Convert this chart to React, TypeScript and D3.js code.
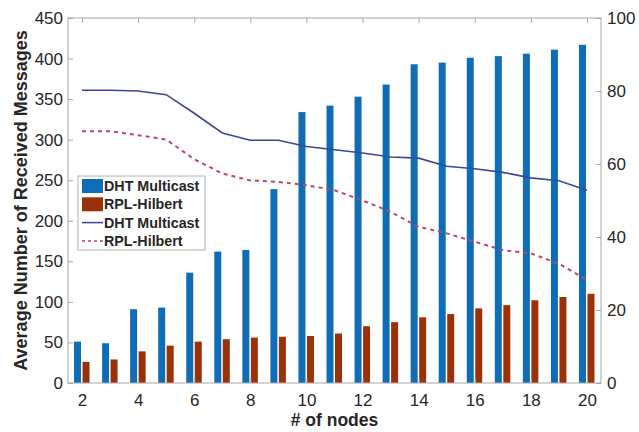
import React, { useRef, useEffect } from 'react';
import * as d3 from 'd3';

const nodes = [2, 3, 4, 5, 6, 7, 8, 9, 10, 11, 12, 13, 14, 15, 16, 17, 18, 19, 20];
const dhtMessages = [51, 49, 91, 93, 136, 162, 164, 239, 334, 342, 353, 368, 393, 395, 401, 403, 406, 411, 417];
const rplMessages = [26, 29, 39, 46, 51, 54, 56, 57, 58, 61, 70, 75, 81, 85, 92, 96, 102, 106, 110];
const dhtLine = [80.2, 80.2, 80, 79, 73.9, 68.5, 66.5, 66.5, 64.8, 63.9, 63, 61.9, 61.6, 59.4, 58.7, 57.7, 56.2, 55.4, 52.8];
const rplLine = [69, 69, 67.9, 66.7, 61.3, 57.4, 55.5, 55.1, 54.2, 52.8, 50, 46.9, 42.8, 41, 38.7, 36.4, 35.5, 32.7, 28.2];
const xTicks = [2, 4, 6, 8, 10, 12, 14, 16, 18, 20];
const leftTicks = [0, 50, 100, 150, 200, 250, 300, 350, 400, 450];
const rightTicks = [0, 20, 40, 60, 80, 100];
const legendItems = [
  { label: 'DHT Multicast', kind: 'bar', color: '#0f6db7' },
  { label: 'RPL-Hilbert', kind: 'bar', color: '#9a3209' },
  { label: 'DHT Multicast', kind: 'line', color: '#3b4796' },
  { label: 'RPL-Hilbert', kind: 'dash', color: '#bd4766' },
];

const W = 639;
const H = 432;

const App = () => {
  const ref = useRef(null);

  useEffect(() => {
    const svg = d3.select(ref.current);
    svg.selectAll('*').remove();
    const font = 'Liberation Sans, Arial, sans-serif';
    const margin = { top: 18, right: 38, bottom: 49, left: 68 };
    const width = W - margin.left - margin.right;
    const height = H - margin.top - margin.bottom;

    const x = d3.scaleLinear().domain([1.5, 20.5]).range([0, width]);
    const yL = d3.scaleLinear().domain([0, 450]).range([height, 0]);
    const yR = d3.scaleLinear().domain([0, 100]).range([height, 0]);

    const g = svg.append('g').attr('transform', `translate(${margin.left},${margin.top})`);
    const axisColor = '#a6a6a6';
    const textColor = '#262626';
    const barW = 7;

    g.selectAll('.bar-dht')
      .data(nodes)
      .enter()
      .append('rect')
      .attr('x', (d) => x(d) - 4.5 - barW / 2)
      .attr('y', (d, i) => yL(dhtMessages[i]))
      .attr('width', barW)
      .attr('height', (d, i) => height - yL(dhtMessages[i]))
      .attr('fill', legendItems[0].color);

    g.selectAll('.bar-rpl')
      .data(nodes)
      .enter()
      .append('rect')
      .attr('x', (d) => x(d) + 4 - barW / 2)
      .attr('y', (d, i) => yL(rplMessages[i]))
      .attr('width', barW)
      .attr('height', (d, i) => height - yL(rplMessages[i]))
      .attr('fill', legendItems[1].color);

    const line = d3.line().x((d, i) => x(nodes[i])).y((d) => yR(d));

    g.append('path')
      .datum(dhtLine)
      .attr('fill', 'none')
      .attr('stroke', legendItems[2].color)
      .attr('stroke-width', 1.6)
      .attr('d', line);

    g.append('path')
      .datum(rplLine)
      .attr('fill', 'none')
      .attr('stroke', legendItems[3].color)
      .attr('stroke-width', 2)
      .attr('stroke-dasharray', '4,4')
      .attr('d', line);

    // axes box
    g.append('rect')
      .attr('x', 0)
      .attr('y', 0)
      .attr('width', width)
      .attr('height', height)
      .attr('fill', 'none')
      .attr('stroke', axisColor)
      .attr('stroke-width', 1);

    const styleAxis = (sel) => {
      sel.select('.domain').remove();
      sel.selectAll('line').attr('stroke', axisColor);
      sel.selectAll('text').attr('fill', textColor).attr('font-size', 17).attr('font-family', font);
    };

    g.append('g')
      .attr('transform', `translate(0,${height})`)
      .call(d3.axisBottom(x).tickValues(xTicks).tickSize(-5).tickPadding(11))
      .call(styleAxis);

    g.append('g')
      .call(d3.axisTop(x).tickValues(xTicks).tickSize(-5).tickFormat(() => ''))
      .call(styleAxis);

    g.append('g')
      .call(d3.axisLeft(yL).tickValues(leftTicks).tickSize(-5).tickPadding(5))
      .call(styleAxis);

    g.append('g')
      .attr('transform', `translate(${width},0)`)
      .call(d3.axisRight(yR).tickValues(rightTicks).tickSize(-5).tickPadding(6))
      .call(styleAxis);

    svg.append('text')
      .attr('transform', `translate(27,${margin.top + height / 2}) rotate(-90)`)
      .attr('text-anchor', 'middle')
      .attr('font-family', font)
      .attr('font-weight', 'bold')
      .attr('font-size', 18)
      .attr('fill', textColor)
      .text('Average Number of Received Messages');

    svg.append('text')
      .attr('x', margin.left + width / 2)
      .attr('y', 426)
      .attr('text-anchor', 'middle')
      .attr('font-family', font)
      .attr('font-weight', 'bold')
      .attr('font-size', 17.5)
      .attr('fill', textColor)
      .text('# of nodes');

    // legend
    const lg = svg.append('g').attr('transform', 'translate(78,176)');
    lg.append('rect')
      .attr('width', 127)
      .attr('height', 74)
      .attr('fill', '#fff')
      .attr('stroke', '#b0b0b0');
    legendItems.forEach((item, i) => {
      const cy = 10 + i * 18.3;
      if (item.kind === 'bar') {
        lg.append('rect')
          .attr('x', 4)
          .attr('y', cy - 7)
          .attr('width', 21)
          .attr('height', 14)
          .attr('fill', item.color);
      } else {
        lg.append('line')
          .attr('x1', 4)
          .attr('x2', 25)
          .attr('y1', cy)
          .attr('y2', cy)
          .attr('stroke', item.color)
          .attr('stroke-width', 1.5)
          .attr('stroke-dasharray', item.kind === 'dash' ? '3,3' : null);
      }
      lg.append('text')
        .attr('x', 26)
        .attr('y', cy + 5)
        .attr('font-family', font)
        .attr('font-weight', 'bold')
        .attr('font-size', 14.3)
        .attr('fill', textColor)
        .text(item.label);
    });
  }, []);

  return (
    <svg
      ref={ref}
      width={W}
      height={H}
      style={{ position: 'fixed', left: 0, top: 0, background: '#fff' }}
    />
  );
};

export default App;
